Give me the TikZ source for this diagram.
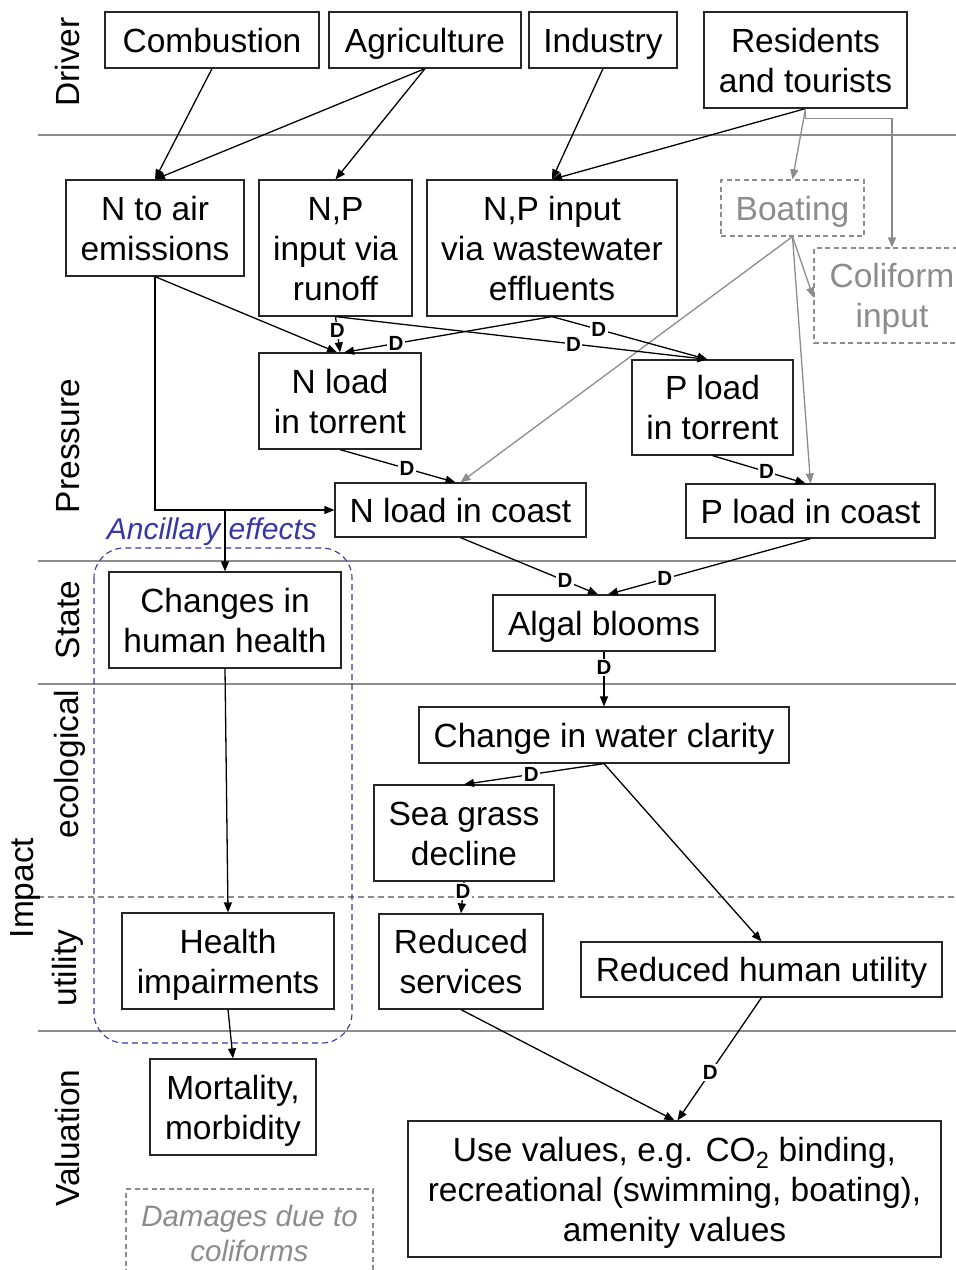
\documentclass[tikz,border=0pt]{standalone}
\usepackage{fontspec}
\setmainfont{Liberation Sans}
\usetikzlibrary{arrows.meta,calc}
\definecolor{sep}{RGB}{140,140,140}
\definecolor{soft}{RGB}{140,140,140}
\definecolor{ancblue}{RGB}{55,55,165}
\begin{document}
\begin{tikzpicture}[x=1pt,y=-1pt,
  box/.style={draw=black!85, line width=1.2pt, inner sep=0pt, align=center,
    font=\fontsize{33.5}{40}\selectfont,
    execute at begin node={\rule{0pt}{32pt}},
    execute at end node={\rule[-8pt]{0pt}{0pt}}},
  two/.style={execute at begin node={\rule{0pt}{72pt}}},
  three/.style={execute at begin node={\rule{0pt}{112pt}}},
  gbox/.style={box, draw=soft, dashed, dash pattern=on 5pt off 3.5pt, text=soft},
  side/.style={rotate=90, font=\fontsize{33.5}{40}\selectfont, inner sep=0pt},
  conn/.style={-{Triangle[length=10pt,width=8pt]}, line width=1.3pt, black},
  gconn/.style={-{Triangle[length=10pt,width=8pt]}, line width=1.3pt, soft},
  dlab/.style={fill=white, inner sep=1.5pt, font=\fontsize{20.5}{22}\selectfont\bfseries},
  rule/.style={draw=sep, line width=1.2pt}]
\useasboundingbox (0,0) rectangle (956,1270);

% band separators
\draw[rule] (38,135) -- (956,135);
\draw[rule] (38,561) -- (956,561);
\draw[rule] (38,684) -- (956,684);
\draw[rule, dashed, dash pattern=on 6pt off 4pt] (38,897) -- (956,897);
\draw[rule] (38,1031) -- (956,1031);

% band titles
\node[side] (tdriver) at (68,62) {Driver};
\node[side] (tpressure) at (68,446) {Pressure};
\node[side] (tstate) at (68,620) {State};
\node[side] (tecol) at (70,764) {ecological};
\node[side] (timpact) at (25,888) {Impact};
\node[side] (tutil) at (68,968) {utility};
\node[side] (tval) at (68,1138) {Valuation};

% ancillary effects frame
\draw[ancblue, line width=1.1pt, dashed, dash pattern=on 6pt off 4pt, rounded corners=30pt]
  (94,548) rectangle (352,1043);
\node[text=ancblue, font=\fontsize{30}{34}\selectfont\itshape, inner sep=0pt] (anc) at (212,532) {Ancillary effects};

% drivers
\node[box, minimum width=214, minimum height=56] (comb) at (212,40) {Combustion};
\node[box, minimum width=192, minimum height=56] (agri) at (425,40) {Agriculture};
\node[box, minimum width=148, minimum height=56] (ind) at (603,40) {Industry};
\node[box, two, minimum width=203, minimum height=96] (res) at (805.5,60) {Residents\\and tourists};

% pressures
\node[box, two, minimum width=178, minimum height=96] (nair) at (155,228) {N to air\\emissions};
\node[box, three, minimum width=153, minimum height=136] (runoff) at (335.5,248) {N,P\\input via\\runoff};
\node[box, three, minimum width=250, minimum height=136] (waste) at (552,248) {N,P input\\via wastewater\\effluents};
\node[gbox, minimum width=143, minimum height=56] (boat) at (792.5,208) {Boating};
\node[gbox, two, minimum width=156, minimum height=95] (coli) at (892,295.5) {Coliform\\input};
\node[box, two, minimum width=162, minimum height=96] (ntor) at (340,401) {N load\\in torrent};
\node[box, two, minimum width=161, minimum height=95] (ptor) at (712.5,407.5) {P load\\in torrent};
\node[box, minimum width=251, minimum height=54] (ncoast) at (460.5,510) {N load in coast};
\node[box, minimum width=249, minimum height=54] (pcoast) at (810.5,511) {P load in coast};

% state
\node[box, two, minimum width=232, minimum height=96] (hhealth) at (225,620) {Changes in\\human health};
\node[box, minimum width=222, minimum height=56] (algal) at (604,623) {Algal blooms};

% impact
\node[box, minimum width=370, minimum height=56] (clar) at (604,735) {Change in water clarity};
\node[box, two, minimum width=180, minimum height=96] (sea) at (464,833) {Sea grass\\decline};
\node[box, two, minimum width=212, minimum height=96] (himp) at (228,961) {Health\\impairments};
\node[box, two, minimum width=164, minimum height=95] (serv) at (461,961.5) {Reduced\\services};
\node[box, minimum width=361, minimum height=55] (rutil) at (761.5,969.5) {Reduced human utility};

% valuation
\node[box, two, minimum width=166, minimum height=96] (mort) at (233,1107) {Mortality,\\morbidity};
\node[box, three, minimum width=533, minimum height=136] (use) at (674.5,1189) {Use values, e.g. CO\textsubscript{2} binding,\\recreational (swimming, boating),\\amenity values};
\node[gbox, minimum width=247, minimum height=89, font=\fontsize{29.5}{35}\selectfont\itshape,
  execute at begin node={\rule{0pt}{64pt}}] (dam) at (249.5,1233.5) {Damages due to\\coliforms};

% driver -> pressure links
\draw[conn] (comb.south) -- (nair.north);
\draw[conn] (agri.south) -- (nair.north);
\draw[conn] (agri.south) -- (runoff.north);
\draw[conn] (ind.south) -- (waste.north);
\draw[conn] (res.south) -- (waste.north);
\draw[gconn] (res.south) -- (boat.north);
\coordinate (colitop) at (coli.north);
\draw[gconn] (res.south) -- ++(0,10) -| (colitop);

% boating effects
\draw[gconn] (boat.south) -- ([yshift=-2pt]coli.west);
\draw[gconn] (boat.south) -- (ncoast.north);
\draw[gconn] (boat.south) -- (pcoast.north);

% nutrient loads
\draw[conn] (nair.south) -- ([xshift=-3pt]ntor.north);
\draw[conn] (runoff.south) -- node[dlab, pos=0.4] (d1) {D} (ntor.north);
\draw[conn] (waste.south) -- node[dlab, pos=0.75] (d2) {D} ([xshift=4pt]ntor.north);
\draw[conn] (runoff.south) -- node[dlab, pos=0.64] (d3) {D} ([xshift=-5pt]ptor.north);
\draw[conn] (waste.south) -- node[dlab, pos=0.3] (d4) {D} ([xshift=-5pt]ptor.north);
\draw[conn] (ntor.south) -- node[dlab, pos=0.58] (d5) {D} ([xshift=-5pt]ncoast.north);
\draw[conn] (ptor.south) -- node[dlab, pos=0.58] (d6) {D} ([xshift=-5pt]pcoast.north);
\draw[conn] (nair.south) |- (ncoast.west);
\draw[conn] (nair.south |- ncoast.west) -| (hhealth.north);

% state and impacts
\draw[conn] (ncoast.south) -- node[dlab, pos=0.76] (d7) {D} ([xshift=-6pt]algal.north);
\draw[conn] (pcoast.south) -- node[dlab, pos=0.72] (d8) {D} ([xshift=4pt]algal.north);
\draw[conn] (algal.south) -- node[dlab, pos=0.29] (d9) {D} (clar.north);
\draw[conn] (clar.south) -- node[dlab, pos=0.52] (d10) {D} (sea.north);
\draw[conn] (clar.south) -- (rutil.north);
\draw[conn] (sea.south) -- node[dlab, pos=0.3] (d11) {D} (serv.north);
\draw[conn] (hhealth.south) -- (himp.north);
\draw[conn] (himp.south) -- ([xshift=5pt]himp.south |- mort.north);
\draw[conn] (serv.south) -- (use.north);
\draw[conn] (rutil.south) -- node[dlab, pos=0.61] (d12) {D} ([xshift=3pt]use.north);
\end{tikzpicture}
\end{document}
